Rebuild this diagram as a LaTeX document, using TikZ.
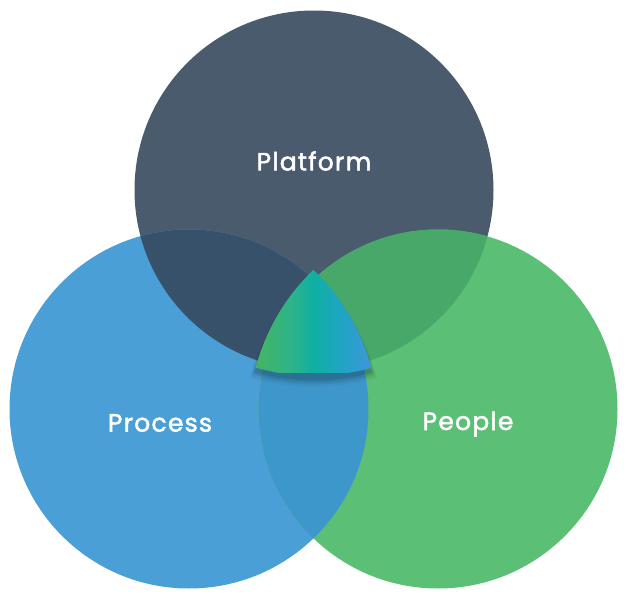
\documentclass[tikz,border=0pt]{standalone}
\usepackage{fontspec}
\setmainfont{Poppins}[FakeBold=2,LetterSpace=5]
\definecolor{cTop}{HTML}{4A5B6D}
\definecolor{cLeft}{HTML}{4A9FD6}
\definecolor{cRight}{HTML}{5BBF76}
\definecolor{cTL}{HTML}{38516B}
\definecolor{cTR}{HTML}{48A86A}
\definecolor{cLR}{HTML}{3E97CA}
\definecolor{gA}{HTML}{45B460}
\definecolor{gA2}{HTML}{2EB488}
\definecolor{gB}{HTML}{0FAFA3}
\definecolor{gB2}{HTML}{1DA6C0}
\definecolor{gC}{HTML}{4096DC}
\pgfdeclarehorizontalshading{trigrad}{100bp}{color(0bp)=(gA); color(25bp)=(gA); color(40bp)=(gA2); color(50bp)=(gB); color(60bp)=(gB2); color(75bp)=(gC); color(100bp)=(gC)}
\tikzset{lbl/.style={text=white,font=\fontsize{25}{29}\selectfont}}
\def\rr{179.5}
\def\TC{(314,190)}
\def\LC{(189,409)}
\def\RC{(438,409)}
\begin{document}
\begin{tikzpicture}[x=1pt,y=-1pt]
\useasboundingbox (0,0) rectangle (630,600);
% base circles
\fill[cTop] \TC circle[radius=\rr];
\fill[cLeft] \LC circle[radius=\rr];
\fill[cRight] \RC circle[radius=\rr];
% overlaps
\begin{scope}
  \clip \TC circle[radius=\rr];
  \fill[cTL] \LC circle[radius=\rr];
\end{scope}
\begin{scope}
  \clip \TC circle[radius=\rr];
  \fill[cTR] \RC circle[radius=\rr];
\end{scope}
\begin{scope}
  \clip \LC circle[radius=\rr];
  \fill[cLR] \RC circle[radius=\rr];
\end{scope}
% shadow of centre shape
\foreach \s/\o/\d in {1.30/0.04/7,1.26/0.06/6,1.23/0.08/5,1.20/0.10/4}{
\begin{scope}[shift={(314,335+\d)},scale=\s,shift={(-314,-335)}]
  \clip \TC circle[radius=\rr];
  \clip \LC circle[radius=\rr];
  \fill[black,opacity=\o] \RC circle[radius=\rr];
\end{scope}
}
% centre shape
\begin{scope}[shift={(314,335)},scale=1.18,shift={(-314,-335)}]
  \clip \TC circle[radius=\rr];
  \clip \LC circle[radius=\rr];
  \clip \RC circle[radius=\rr];
  \shade[shading=trigrad] (264,275) rectangle (364,367);
\end{scope}
% labels
\node[lbl] (platform) at (314,161) {Platform};
\node[lbl] (process) at (160,423) {Process};
\node[lbl] (people) at (468,424) {People};
\end{tikzpicture}
\end{document}
